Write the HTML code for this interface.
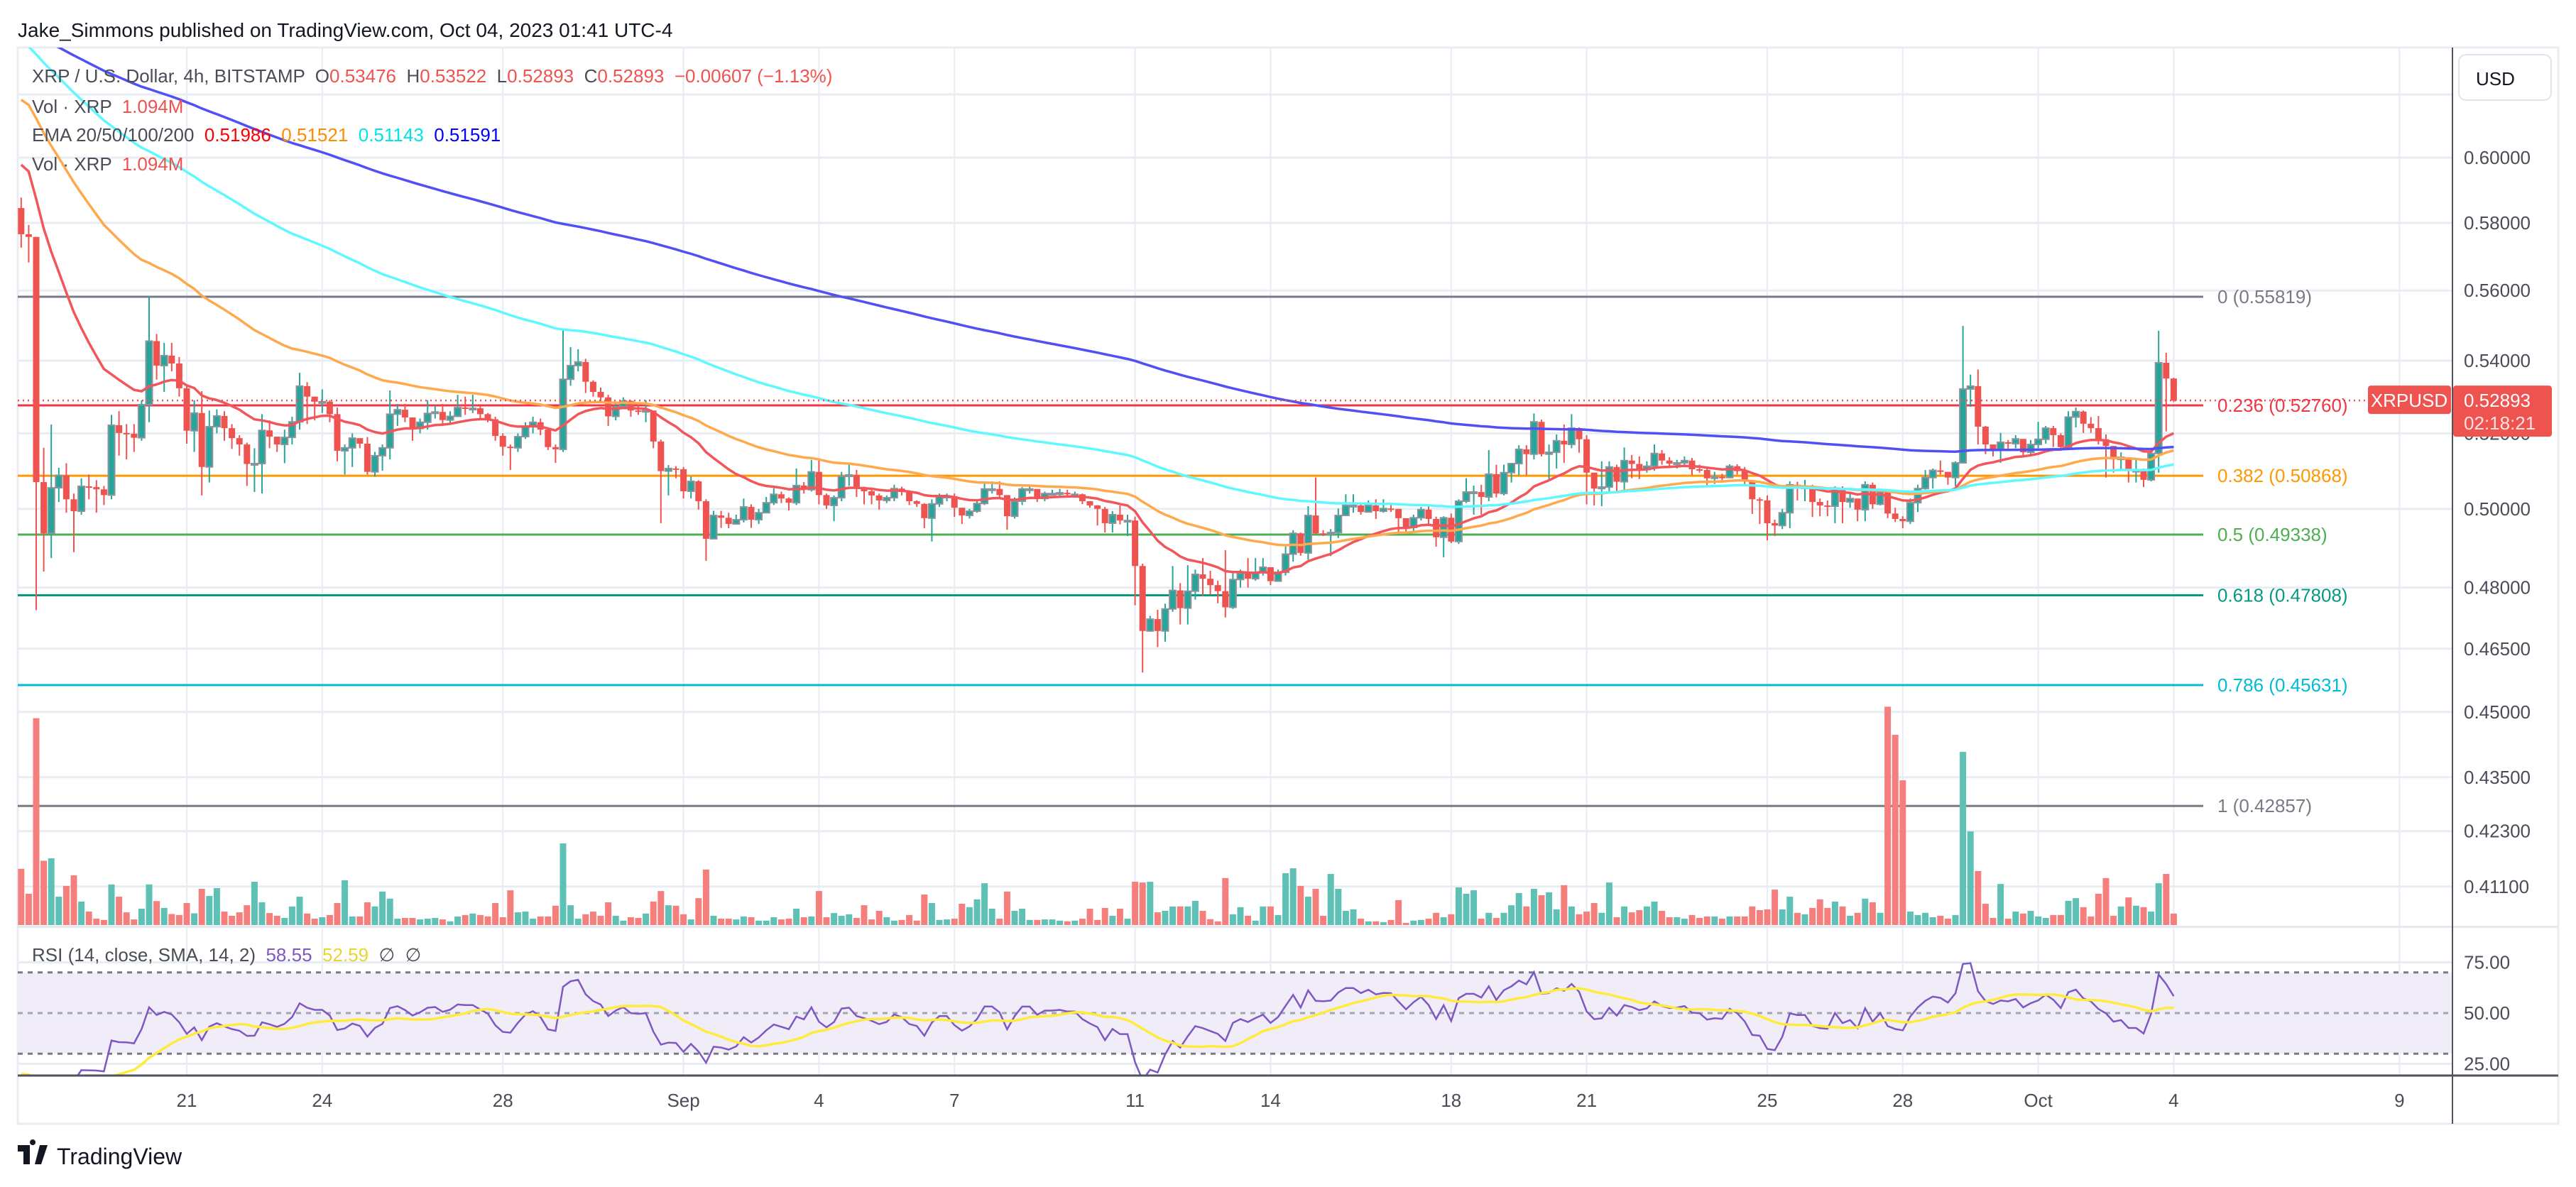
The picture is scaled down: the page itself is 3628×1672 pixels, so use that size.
<!DOCTYPE html>
<html><head><meta charset="utf-8"><style>
html,body{margin:0;padding:0;background:#fff;}
svg{display:block;font-family:"Liberation Sans",sans-serif;}
</style></head><body>
<svg id="c" width="3628" height="1672" viewBox="0 0 3628 1672" xmlns="http://www.w3.org/2000/svg">
<defs>
<clipPath id="mainClip"><rect x="25" y="67" width="3429" height="1236"/></clipPath>
<clipPath id="rsiClip"><rect x="25" y="1306" width="3429" height="208"/></clipPath>
</defs>
<rect x="0" y="0" width="3628" height="1672" fill="#fff"/>
<text x="25" y="52" font-size="28" fill="#131722">Jake_Simmons published on TradingView.com, Oct 04, 2023 01:41 UTC-4</text>
<rect x="25" y="67" width="3578" height="1516" fill="none" stroke="#e9ecf2" stroke-width="3"/>
<g id="grid"></g>
<rect x="25" y="1304" width="3578" height="3" fill="#e6e9ef"/>
<g id="rsiPane" clip-path="url(#rsiClip)"></g>
<g id="main" clip-path="url(#mainClip)"></g>
<g id="labels"></g>
<line x1="3454" y1="67" x2="3454" y2="1583" stroke="#50535e" stroke-width="2"/>
<line x1="25" y1="1515" x2="3603" y2="1515" stroke="#50535e" stroke-width="3"/>
<g><rect x="3463" y="77" width="130" height="64" rx="10" fill="#fff" stroke="#e0e3eb" stroke-width="2"/><text x="3487" y="120" font-size="26" fill="#131722">USD</text></g>
<g>
<text x="45" y="116" font-size="26" fill="#4a4d57" xml:space="preserve">XRP / U.S. Dollar, 4h, BITSTAMP  O<tspan fill="#ef5350">0.53476</tspan>  H<tspan fill="#ef5350">0.53522</tspan>  L<tspan fill="#ef5350">0.52893</tspan>  C<tspan fill="#ef5350">0.52893</tspan>  <tspan fill="#ef5350">−0.00607 (−1.13%)</tspan></text>
<text x="45" y="159" font-size="26" fill="#4a4d57" xml:space="preserve">Vol · XRP  <tspan fill="#ef5350">1.094M</tspan></text>
<text x="45" y="199" font-size="26" fill="#4a4d57" xml:space="preserve">EMA 20/50/100/200  <tspan fill="#ff0000">0.51986</tspan>  <tspan fill="#ff8c00">0.51521</tspan>  <tspan fill="#00e5e5">0.51143</tspan>  <tspan fill="#0000ff">0.51591</tspan></text>
<text x="45" y="240" font-size="26" fill="#4a4d57" xml:space="preserve">Vol · XRP  <tspan fill="#ef5350">1.094M</tspan></text>
<text x="45" y="1354" font-size="26" fill="#4a4d57" xml:space="preserve">RSI (14, close, SMA, 14, 2)  <tspan fill="#7e57c2">58.55</tspan>  <tspan fill="#e8d534">52.59</tspan>  ∅  ∅</text>
</g>
<g>
<path d="M25 1613h17v27h-9v-18h-8z M46 1613a4 4 0 1 1 0.1 0z M56 1613h11l-9 27h-9z" fill="#131722"/>
<text x="80" y="1640" font-size="32" fill="#131722">TradingView</text>
</g>
<g id="tags"></g>
</svg>
<script>
// ---- data (4h bars, index 0 = Aug 17 08:00) ----
const closes=[.5766,.5758,.5070,.4937,.5055,.5088,.5025,.4994,.5059,.5057,.5051,.5036,.5222,.5201,.5199,.5188,.5278,.5455,.5386,.5414,.5392,.5323,
.5207,.5255,.5110,.5218,.5247,.5214,.5187,.5170,.5118,.5119,
.5208,.5191,.5170,.5189,.5231,.5329,.5300,.5286,.5286,.5252,
.5153,.5161,.5187,.5172,.5097,.5140,.5161,.5252,.5264,.5243,
.5213,.5230,.5254,.5258,.5236,.5246,.5270,.5268,.5268,.5252,
.5238,.5193,.5164,.5161,.5191,.5218,.5230,.5210,.5163,.5157,
.5348,.5386,.5396,.5341,.5313,.5298,.5246,.5272,.5288,.5262,
.5259,.5262,.5178,.5099,.5106,.5104,.5046,.5072,.5020,.4923,
.4983,.4977,.4961,.4972,.5005,.4972,.4990,.5016,.5038,.5027,
.5016,.5061,.5050,.5097,.5036,.5009,.5029,.5085,.5089,.5055,
.5046,.5035,.5022,.5029,.5053,.5044,.5020,.5013,.4976,.5013,
.5033,.5033,.5003,.4983,.4994,.5014,.5052,.5052,.5036,.4981,
.5020,.5052,.5052,.5027,.5040,.5040,.5042,.5038,.5038,.5020,
.5009,.5000,.4963,.4985,.4970,.4970,.4854,.4693,.4722,.4693,
.4747,.4793,.4749,.4791,.4833,.4822,.4806,.4791,.4751,.4820,
.4836,.4822,.4838,.4851,.4816,.4838,.4884,.4937,.4887,.4983,
.4937,.4935,.4939,.4983,.5009,.5009,.4992,.5009,.4994,.5001,
.5000,.4976,.4952,.4977,.4998,.4974,.4927,.4977,.4916,.5020,
.5044,.5044,.5031,.5091,.5040,.5095,.5119,.5157,.5144,.5231,
.5144,.5149,.5180,.5170,.5214,.5184,.5095,.5053,.5057,.5110,
.5071,.5127,.5118,.5103,.5112,.5146,.5127,.5119,.5121,.5127,
.5104,.5102,.5080,.5084,.5082,.5112,.5099,.5074,.5025,.5022,
.4963,.4957,.4990,.5063,.5057,.5057,.5018,.5009,.5007,.5053,
.5018,.5027,.4998,.5063,.5012,.5044,.4988,.4974,.4968,.5016,
.5053,.5082,.5101,.5097,.5082,.5121,.5321,.5329,.5218,.5170,
.5155,.5176,.5172,.5185,.5149,.5170,.5184,.5214,.5195,.5163,
.5244,.5259,.5226,.5214,.5184,.5166,.5130,.5136,.5101,.5101,
.5076,.5146,.5394,.5350,.5289];
const highs=[.5877,.5794,.5758,.5161,.5224,.5108,.5120,.5040,.5080,.5090,.5075,.5060,.5250,.5260,.5225,.5225,.5290,.5583,.5475,.5450,.5450,.5410,
.5330,.5290,.5315,.5262,.5265,.5260,.5225,.5195,.5175,.5160,
.5252,.5235,.5190,.5210,.5245,.5366,.5340,.5300,.5320,.5290,
.5270,.5170,.5200,.5180,.5190,.5150,.5170,.5317,.5280,.5280,
.5225,.5240,.5290,.5275,.5280,.5260,.5305,.5300,.5305,.5275,
.5255,.5245,.5200,.5170,.5200,.5230,.5245,.5240,.5215,.5170,
.5490,.5438,.5432,.5405,.5345,.5325,.5305,.5285,.5298,.5290,
.5285,.5290,.5260,.5183,.5115,.5112,.5110,.5085,.5075,.5025,
.4995,.4995,.4990,.4985,.5027,.5012,.5000,.5031,.5054,.5045,
.5030,.5106,.5070,.5129,.5129,.5040,.5035,.5097,.5119,.5102,
.5058,.5050,.5040,.5035,.5063,.5058,.5048,.5022,.5015,.5025,
.5040,.5040,.5040,.4998,.5000,.5020,.5069,.5072,.5072,.5030,
.5030,.5057,.5061,.5050,.5045,.5050,.5052,.5050,.5045,.5040,
.5020,.5010,.5005,.4994,.5009,.4985,.4980,.4860,.4730,.4745,
.4760,.4854,.4811,.4856,.4845,.4874,.4842,.4817,.4894,.4840,
.4845,.4874,.4874,.4874,.4850,.4845,.4904,.4945,.4939,.5007,
.5082,.4945,.4948,.5001,.5038,.5038,.5015,.5022,.5025,.5025,
.5012,.5000,.4970,.4985,.5005,.5007,.4980,.4981,.4988,.5025,
.5080,.5061,.5063,.5155,.5116,.5116,.5119,.5168,.5168,.5254,
.5237,.5170,.5197,.5224,.5252,.5216,.5195,.5095,.5125,.5125,
.5116,.5162,.5142,.5138,.5125,.5170,.5155,.5136,.5129,.5138,
.5134,.5116,.5106,.5097,.5092,.5117,.5117,.5110,.5075,.5030,
.5035,.4972,.5000,.5072,.5071,.5076,.5063,.5027,.5022,.5059,
.5059,.5040,.5022,.5072,.5069,.5050,.5050,.5003,.4981,.5027,
.5063,.5102,.5106,.5127,.5097,.5125,.5498,.5361,.5375,.5220,
.5170,.5201,.5182,.5195,.5182,.5182,.5231,.5220,.5220,.5200,
.5260,.5270,.5262,.5244,.5247,.5197,.5166,.5149,.5134,.5134,
.5106,.5153,.5484,.5422,.5352];
const lows=[.5726,.5682,.4744,.4840,.4874,.5018,.4990,.4889,.4985,.5025,.4990,.5010,.5025,.5140,.5130,.5150,.5180,.5230,.5347,.5313,.5370,.5300,
.5172,.5150,.5035,.5069,.5200,.5180,.5158,.5140,.5060,.5044,
.5040,.5160,.5150,.5120,.5170,.5210,.5225,.5235,.5255,.5230,
.5125,.5090,.5110,.5160,.5090,.5084,.5100,.5130,.5220,.5230,
.5180,.5200,.5210,.5240,.5220,.5225,.5245,.5250,.5255,.5240,
.5230,.5180,.5140,.5102,.5150,.5185,.5200,.5195,.5155,.5121,
.5150,.5330,.5370,.5310,.5300,.5288,.5220,.5235,.5270,.5245,
.5250,.5230,.5160,.4963,.5035,.5080,.5027,.5027,.4998,.4867,
.4930,.4951,.4950,.4960,.4965,.4951,.4961,.4990,.5010,.5015,
.4996,.5010,.5040,.5045,.5012,.5000,.4968,.5020,.5060,.5031,
.5012,.5012,.4998,.5015,.5020,.5035,.5010,.5005,.4950,.4916,
.5005,.5020,.4979,.4961,.4975,.4990,.5010,.5040,.5030,.4946,
.4975,.5010,.5040,.5018,.5020,.5035,.5035,.5030,.5032,.5012,
.5003,.4957,.4939,.4939,.4960,.4930,.4756,.4593,.4691,.4654,
.4667,.4740,.4709,.4709,.4770,.4779,.4782,.4761,.4726,.4747,
.4800,.4800,.4817,.4830,.4806,.4822,.4830,.4865,.4880,.4870,
.4935,.4930,.4879,.4925,.4990,.4990,.4985,.4995,.4974,.4990,
.4992,.4935,.4939,.4940,.4970,.4957,.4903,.4876,.4912,.4910,
.5015,.4985,.4985,.5020,.5030,.5035,.5069,.5088,.5088,.5130,
.5138,.5074,.5106,.5121,.5160,.5148,.5012,.5009,.5007,.5040,
.5044,.5044,.5080,.5078,.5095,.5100,.5116,.5110,.5106,.5116,
.5088,.5095,.5059,.5065,.5075,.5080,.5090,.5059,.4987,.4961,
.4919,.4930,.4948,.4950,.5022,.5020,.4979,.4981,.4981,.4963,
.4963,.5003,.4968,.4968,.5000,.5009,.4976,.4966,.4950,.4961,
.4992,.5050,.5053,.5090,.5063,.5059,.5119,.5272,.5170,.5144,
.5138,.5121,.5159,.5160,.5140,.5140,.5160,.5172,.5163,.5155,
.5160,.5216,.5201,.5201,.5170,.5082,.5095,.5102,.5069,.5069,
.5057,.5072,.5095,.5205,.5285];
const volumes=[23.0,12.8,84.6,26.3,27.3,11.6,16.0,20.3,9.6,5.5,
2.6,2.1,16.6,11.6,5.2,2.3,6.7,16.6,9.8,7.0,
4.5,4.1,9.0,4.8,14.8,11.9,15.1,5.5,3.8,5.2,
8.1,17.7,9.3,4.9,3.8,2.9,7.6,11.6,4.7,2.6,
3.2,4.1,9.0,18.3,3.5,3.5,9.3,7.6,13.7,10.8,
2.6,2.9,2.9,2.3,2.6,2.9,2.3,1.5,3.5,4.1,
4.7,4.1,3.5,9.0,3.2,14.2,5.2,5.5,2.6,3.5,
3.5,7.9,33.4,8.1,2.6,4.4,5.5,3.8,9.3,3.8,
1.8,3.2,2.9,4.7,9.6,13.9,8.1,7.9,4.4,2.3,
11.0,22.7,3.8,2.6,2.6,2.3,3.5,3.2,1.8,1.8,
3.2,2.3,2.6,6.7,3.2,3.5,13.9,3.2,4.9,3.8,
4.4,2.9,8.1,2.3,5.8,3.2,1.8,2.1,4.1,1.8,
12.5,9.0,2.1,2.3,2.6,8.7,7.3,10.5,17.1,6.7,
2.6,13.7,5.8,6.7,2.1,2.1,2.3,2.3,1.8,1.5,
1.8,2.6,6.7,2.1,7.0,3.8,6.7,
2.6,17.7,17.4,17.7,5.2,5.8,7.6,7.6,7.6,9.9,
5.8,2.4,1.5,19.2,4.4,7.3,3.8,1.8,7.6,7.6,
4.1,21.2,23.2,16.0,11.6,14.8,3.8,20.9,14.8,5.8,
6.4,2.6,1.5,1.5,1.2,2.1,10.2,0.9,1.8,2.1,
2.6,5.0,3.2,4.4,15.4,12.8,14.2,2.6,5.0,2.9,
5.0,8.1,13.1,7.6,14.8,12.2,13.4,6.4,16.3,7.6,
4.4,5.5,9.0,5.0,17.4,3.2,7.6,5.2,6.1,7.6,
9.6,5.8,3.2,3.2,2.6,4.1,2.9,3.5,3.5,2.6,
3.5,3.5,3.5,7.6,6.1,6.4,14.5,6.4,11.6,5.0,
4.4,7.0,10.5,7.0,9.6,7.6,3.8,5.0,10.8,9.3,
5.0,89.3,77.8,59.2,5.5,4.1,5.0,3.2,3.8,2.6,
4.1,70.8,38.3,22.1,8.7,2.9,16.8,2.6,5.5,4.7,
5.8,3.5,2.9,4.1,4.1,9.9,11.0,7.3,3.5,12.8,
19.2,3.8,7.6,11.3,7.9,7.3,5.5,17.1,20.9,4.7];
const firstOpen=0.5845;
const emaPeriods=[20,50,100,200];
const emaSeeds=[0.600,0.620,0.638,0.642];
const emaColors=['#f2555a','#ffa94d','#5ff8ff','#5050f5'];
const rsiSeedGain=0.0006, rsiSeedLoss=0.0018;
const fibLevels=[0,0.236,0.382,0.5,0.618,0.786,1];
const fibPrices=[0.55819,0.52760,0.50868,0.49338,0.47808,0.45631,0.42857];
const fibColors=['#787b86','#f23645','#ff9800','#4caf50','#089981','#00bcd4','#787b86'];
const priceTicks=[0.62,0.60,0.58,0.56,0.54,0.52,0.50,0.48,0.465,0.45,0.435,0.423,0.411];
const dateLabels=['21','24','28','Sep','4','7','11','14','18','21','25','28','Oct','4','9'];
const dateDays=[0,3,7,11,14,17,21,24,28,31,35,38,41,44,49];
const rsiTicks=[75,50,25];
const lastPrice=0.52893;

// ---- scales ----
const NS='http://www.w3.org/2000/svg';
const X0=263, DAYW=63.6, BARW=DAYW/6, K0=-22;
const xDay=d=>X0+DAYW*d;
const xBar=i=>X0+BARW*(i+K0);
const yP=p=>222+2714*Math.log(0.6/p);
const yV=v=>1303-v*3.444;
const yR=r=>1427-(r-50)*2.86;
function el(tag,attrs,parent){const e=document.createElementNS(NS,tag);for(const k in attrs)e.setAttribute(k,attrs[k]);parent.appendChild(e);return e;}
const grid=document.getElementById('grid'),main=document.getElementById('main'),rsiG=document.getElementById('rsiPane'),lab=document.getElementById('labels'),tags=document.getElementById('tags');

// grid
priceTicks.forEach((p,i)=>{
  const l=el('line',{x1:25,x2:3454,y1:yP(p),y2:yP(p),stroke:'#e7edf3','stroke-width':3},grid);
  
  
  if(i>0){const t=el('text',{x:3470,y:yP(p)+9,'font-size':26,fill:'#4a4d57'},lab);t.textContent=p.toFixed(5);
  
  }
});
dateLabels.forEach((s,i)=>{
  const x=xDay(dateDays[i]);
  const l=el('line',{x1:x,x2:x,y1:67,y2:1515,stroke:'#e7edf3','stroke-width':2},grid);
  
  
  const t=el('text',{x:x,y:1559,'font-size':26,fill:'#4a4d57','text-anchor':'middle'},lab);t.textContent=s;
  
  
});
el('line',{x1:25,x2:3454,y1:yR(75),y2:yR(75),stroke:'#e7edf3','stroke-width':3},grid);
el('line',{x1:25,x2:3454,y1:yR(25),y2:yR(25),stroke:'#e7edf3','stroke-width':3},grid);
rsiTicks.forEach(r=>{const t=el('text',{x:3470,y:yR(r)+9,'font-size':26,fill:'#4a4d57'},lab);t.textContent=r.toFixed(2);
  
  });

// fib
fibLevels.forEach((lv,i)=>{
  const y=yP(fibPrices[i]);
  const l=el('line',{x1:25,x2:3103,y1:y,y2:y,stroke:fibColors[i],'stroke-width':3},main);
  
  
  const t=el('text',{x:3123,y:y+9,'font-size':26,fill:fibColors[i]},lab);
  t.textContent=lv+' ('+fibPrices[i].toFixed(5)+')';
  
  
});

// opens
const opens=closes.map((c,i)=>i===0?firstOpen:closes[i-1]);
// volume
volumes.forEach((v,i)=>{
  if(i>=closes.length)return;
  const up=closes[i]>=opens[i];
  const r=el('rect',{x:xBar(i)-4.5,y:yV(v),width:9,height:1303-yV(v),fill:up?'#5fc1b6':'#f47f7c'},main);
  
  
});
// candles
closes.forEach((c,i)=>{
  const o=opens[i],x=xBar(i),up=c>=o;
  const col=up?'#26a69a':'#ef5350';
  const w=el('line',{x1:x,x2:x,y1:yP(highs[i]),y2:yP(lows[i]),stroke:col,'stroke-width':2},main);
  
  
  const yt=yP(Math.max(o,c)),yb=yP(Math.min(o,c));
  const b=el('rect',{x:x-4.5,y:yt,width:9,height:Math.max(2,yb-yt),fill:col},main);
  if(up){b.setAttribute('stroke','#8d939c');b.setAttribute('stroke-width','2');}
  
  
});
// EMAs
emaPeriods.forEach((n,j)=>{
  const a=2/(n+1);let e=emaSeeds[j];const pts=[];
  closes.forEach((c,i)=>{e=e+a*(c-e);pts.push(xBar(i).toFixed(1)+','+yP(e).toFixed(1));});
  const p=el('polyline',{points:pts.join(' '),fill:'none',stroke:emaColors[j],'stroke-width':3.5,'stroke-linejoin':'round'},main);
  
  
});
// last price line
const pl=el('line',{x1:25,x2:3335,y1:yP(lastPrice),y2:yP(lastPrice),stroke:'#ef5350','stroke-width':2.5,'stroke-dasharray':'2 5'},main);



// RSI
el('rect',{x:25,y:yR(70),width:3429,height:yR(30)-yR(70),fill:'#f0edf9'},rsiG);
[70,50,30].forEach(r=>{const l=el('line',{x1:25,x2:3454,y1:yR(r),y2:yR(r),stroke:r===50?'#a3a6af':'#787b86','stroke-width':3,'stroke-dasharray':'7 7'},rsiG);
  
  });
let ag=rsiSeedGain,al=rsiSeedLoss;const rsi=[];
closes.forEach((c,i)=>{const d=c-opens[i];const g=Math.max(d,0),l=Math.max(-d,0);
  ag=(ag*13+g)/14;al=(al*13+l)/14;rsi.push(100-100/(1+ag/al));});
const sma=rsi.map((v,i)=>{const s=rsi.slice(Math.max(0,i-13),i+1);return s.reduce((a,b)=>a+b,0)/s.length;});
const rp=el('polyline',{points:rsi.map((v,i)=>xBar(i).toFixed(1)+','+yR(v).toFixed(1)).join(' '),fill:'none',stroke:'#7e57c2','stroke-width':2.5},rsiG);


const sp=el('polyline',{points:sma.map((v,i)=>xBar(i).toFixed(1)+','+yR(v).toFixed(1)).join(' '),fill:'none',stroke:'#ffeb3b','stroke-width':3.5},rsiG);



// tags
const ty=yP(lastPrice);
el('rect',{x:3335,y:ty-21,width:117,height:40,rx:4,fill:'#ef5350'},tags);
const t1=el('text',{x:3393,y:ty+9,'font-size':26,fill:'#fff','text-anchor':'middle'},tags);t1.textContent='XRPUSD';


el('rect',{x:3455,y:ty-21,width:139,height:72,rx:4,fill:'#ef5350'},tags);
const t2=el('text',{x:3470,y:ty+9,'font-size':26,fill:'#fff'},tags);t2.textContent=lastPrice.toFixed(5);


const t3=el('text',{x:3470,y:ty+41,'font-size':26,fill:'#fde2e1'},tags);t3.textContent='02:18:21';


</script>
</body></html>
